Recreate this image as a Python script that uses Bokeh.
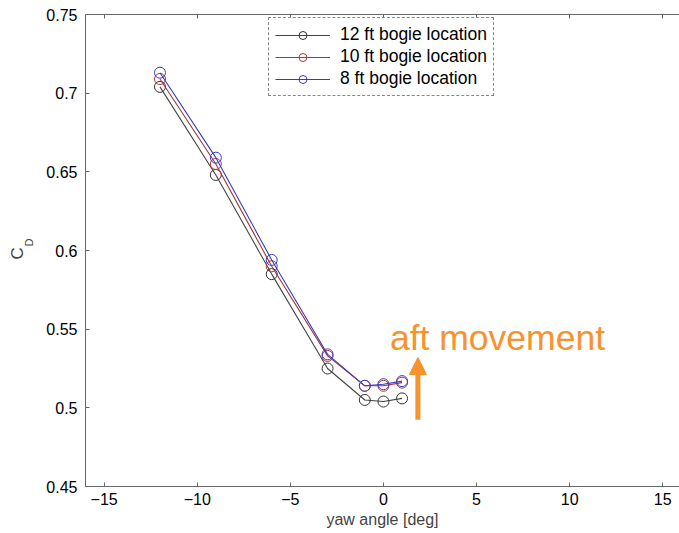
from bokeh.plotting import figure
from bokeh.models import Range1d, LinearAxis, FixedTicker, Label, Arrow, NormalHead, Legend, LegendItem, Title
from bokeh.embed import file_html
from bokeh.resources import INLINE

yaw = [-12, -9, -6, -3, -1, 0, 1]
cd_12ft = [0.704, 0.648, 0.585, 0.525, 0.505, 0.504, 0.506]
cd_10ft = [0.709, 0.655, 0.590, 0.533, 0.514, 0.514, 0.516]
cd_8ft = [0.713, 0.659, 0.594, 0.534, 0.514, 0.515, 0.517]
series_labels = ["12 ft bogie location", "10 ft bogie location", "8 ft bogie location"]
x_ticks = [-15, -10, -5, 0, 5, 10, 15]
y_ticks = [0.45, 0.5, 0.55, 0.6, 0.65, 0.7, 0.75]

FONT = "Liberation Sans"
ORANGE = "#F7922D"

p = figure(width=679, height=533, output_backend="svg", toolbar_location=None,
           x_range=Range1d(-16, 15.9), y_range=Range1d(0.45, 0.75),
           min_border_left=85, min_border_right=0, min_border_top=14, min_border_bottom=47,
           x_axis_location=None, y_axis_location=None)
p.outline_line_color = None
p.grid.visible = False
p.background_fill_color = "white"
p.border_fill_color = "white"

def style_axis(ax, ticks):
    ax.ticker = FixedTicker(ticks=ticks)
    ax.major_tick_in = 4
    ax.major_tick_out = 0
    ax.minor_tick_line_color = None
    ax.axis_line_color = "#666666"
    ax.axis_line_width = 1
    ax.major_tick_line_color = "#666666"
    ax.major_label_text_font = FONT
    ax.major_label_text_font_size = "16px"
    ax.major_label_text_color = "black"

xb = LinearAxis()
style_axis(xb, x_ticks)
xb.major_label_standoff = 6
xb.axis_label = "yaw angle [deg]"
xb.axis_label_text_font = FONT
xb.axis_label_text_font_size = "16px"
xb.axis_label_text_font_style = "normal"
xb.axis_label_standoff = 3
p.add_layout(xb, "below")

xt = LinearAxis()
style_axis(xt, x_ticks)
xt.major_label_text_font_size = "1px"
xt.major_label_text_color = None
xt.major_label_standoff = 0
p.add_layout(xt, "above")

yl = LinearAxis()
style_axis(yl, y_ticks)
yl.major_label_standoff = 8
p.add_layout(yl, "left")

# y axis label C with subscript D
p.add_layout(Title(text="D", text_font=FONT, text_font_size="11px", text_font_style="normal",
                   align="left", offset=240, standoff=18), "left")
p.add_layout(Title(text="C", text_font=FONT, text_font_size="17px", text_font_style="normal",
                   align="left", offset=227, standoff=-30), "left")

colors_line = ["#444444", "#A03838", "#3A3ABF"]
colors_mark = ["#333333", "#B03A3A", "#3C3CD0"]
items = []
for vals, lab, lc, mc in zip([cd_12ft, cd_10ft, cd_8ft], series_labels, colors_line, colors_mark):
    r1 = p.line(yaw, vals, line_color=lc, line_width=1.1)
    r2 = p.scatter(yaw, vals, marker="circle", size=11, fill_color=None, line_color=mc, line_width=1)
    items.append(LegendItem(label=lab, renderers=[r1, r2]))

legend = Legend(items=items, location=(183, 390))
legend.label_text_font = FONT
legend.label_text_font_size = "17.5px"
legend.label_text_color = "black"
legend.glyph_width = 55
legend.glyph_height = 20
legend.label_height = 20
legend.label_standoff = 10
legend.spacing = 1
legend.padding = 6
legend.margin = 0
legend.border_line_color = "#111111"
legend.border_line_width = 1
legend.border_line_dash = "1 1"
legend.background_fill_alpha = 1
p.add_layout(legend, "center")

# annotation
p.add_layout(Arrow(end=NormalHead(size=17, fill_color=ORANGE, line_color=ORANGE, line_width=1),
                   x_start=1.85, y_start=0.4925, x_end=1.85, y_end=0.532,
                   line_color=ORANGE, line_width=5))
p.add_layout(Label(x=0.35, y=0.5445, text="aft movement", text_font=FONT,
                   text_font_size="35.5px", text_color=ORANGE, text_baseline="alphabetic"))

open("out.html", "w").write(file_html(p, INLINE))
